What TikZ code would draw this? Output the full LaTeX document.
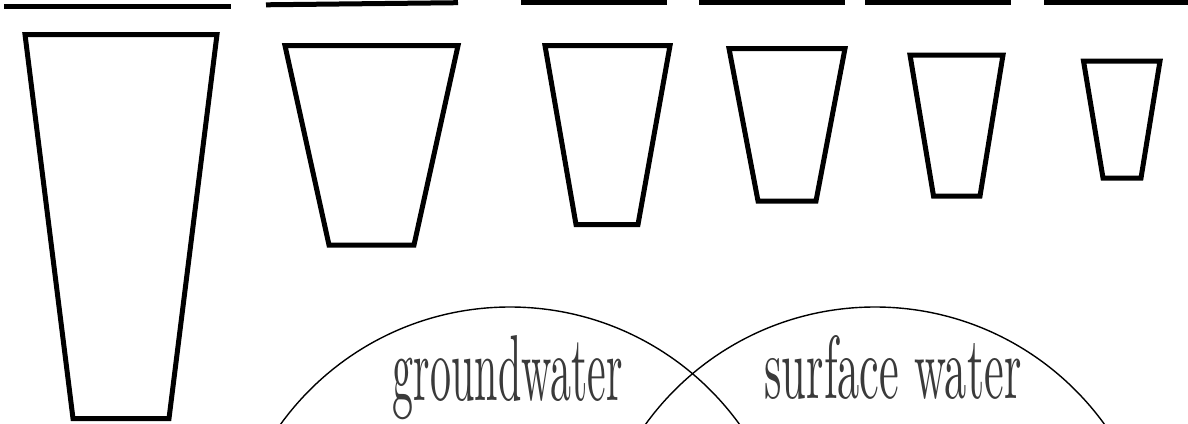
\documentclass[tikz,border=0pt]{standalone}
\usepackage{xcolor}
\usepackage{tikz}
\definecolor{ink}{HTML}{000000}
\definecolor{pencil}{HTML}{3A3A3A}

\begin{document}
\begin{tikzpicture}[
  x=1pt, y=-1pt,
  answerline/.style={draw=ink, line width=5pt},
  cup/.style={draw=ink, line width=5pt},
  ring/.style={draw=ink, line width=1.4pt},
  venntext/.style={inner sep=0pt, anchor=base, text=pencil}
]
  \useasboundingbox (0,0) rectangle (1188,423);
  \clip (0,0) rectangle (1188,423);

  % Answer lines
  \draw[answerline] (4,6.7) -- (231,6.7);
  \draw[answerline] (266,4.8) -- (458,2.7);
  \draw[answerline] (521,2.5) -- (667,2.5);
  \draw[answerline] (699,2.5) -- (845,2.5);
  \draw[answerline] (865,2.5) -- (1011,2.5);
  \draw[answerline] (1044,2.5) -- (1188,2.5);

  % Cups, largest to smallest
  \draw[cup] (25,34.5) -- (217,34.5) -- (169,418.5) -- (73,418.5) -- cycle;
  \draw[cup] (285,45.7) -- (458,45.7) -- (414,245) -- (329,245) -- cycle;
  \draw[cup] (545,45.7) -- (670,45.7) -- (638,224.5) -- (576,224.5) -- cycle;
  \draw[cup] (729,48.5) -- (845,48.5) -- (816,201) -- (758,201) -- cycle;
  \draw[cup] (910,55) -- (1003,55) -- (980,196) -- (933.5,196) -- cycle;
  \draw[cup] (1083.5,61) -- (1160,61) -- (1141,178) -- (1103,178) -- cycle;

  % Venn diagram
  \draw[ring] (510,590) circle[radius=283pt];
  \draw[ring] (875,590) circle[radius=283pt];
  \node[venntext] (ground) at (508,400) {\resizebox{230pt}{65pt}{groundwater}};
  \node[venntext] (surface) at (893,398) {\resizebox{257pt}{63pt}{surface water}};
\end{tikzpicture}
\end{document}
